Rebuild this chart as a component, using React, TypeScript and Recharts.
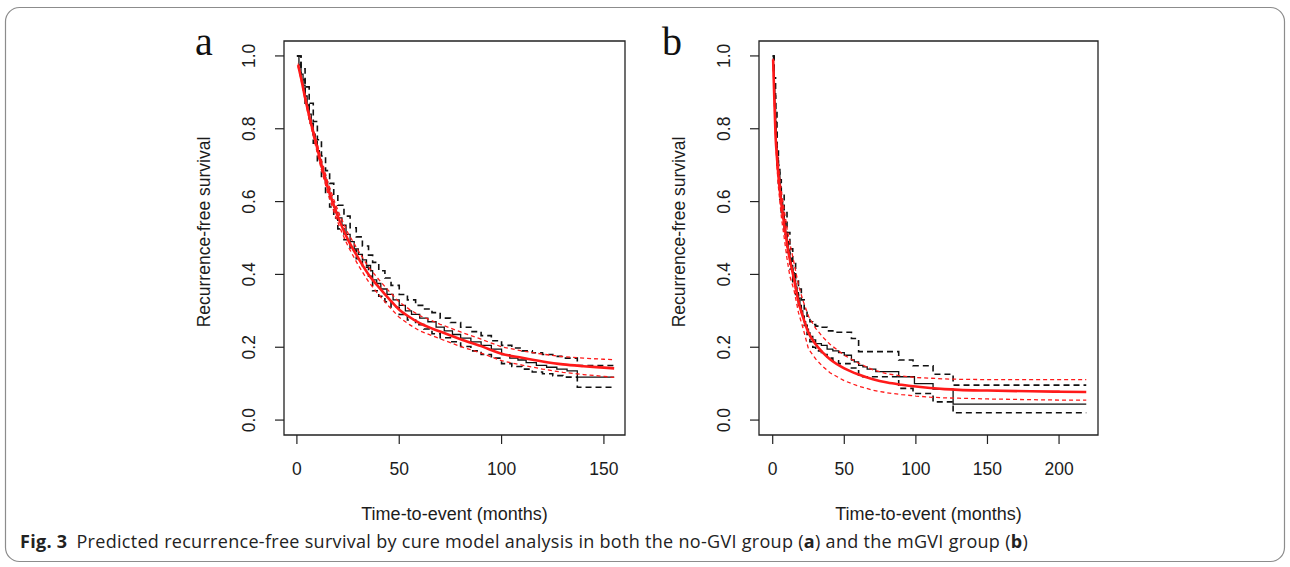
import React from 'react';
import { LineChart, Line, XAxis, YAxis, ReferenceArea } from 'recharts';

// ---------- Panel a (no-GVI group) ----------
const A_FIT_T = [0.6, 2, 4, 6, 8, 10, 12, 15, 18, 21, 25, 30, 35, 40, 45, 50, 55, 60, 70, 80, 90, 100, 110, 120, 130, 140, 150, 155];
const A_FIT = [0.975, 0.94, 0.885, 0.835, 0.79, 0.745, 0.7, 0.64, 0.59, 0.545, 0.495, 0.445, 0.4, 0.365, 0.333, 0.303, 0.283, 0.266, 0.243, 0.222, 0.203, 0.182, 0.171, 0.161, 0.153, 0.148, 0.144, 0.142];
const A_FIT_UP = [0.979, 0.944, 0.891, 0.843, 0.8, 0.757, 0.713, 0.655, 0.606, 0.562, 0.513, 0.465, 0.42, 0.386, 0.354, 0.324, 0.304, 0.287, 0.263, 0.242, 0.222, 0.201, 0.19, 0.181, 0.174, 0.17, 0.167, 0.166];
const A_FIT_LO = [0.971, 0.936, 0.879, 0.827, 0.78, 0.733, 0.687, 0.625, 0.574, 0.528, 0.477, 0.425, 0.38, 0.344, 0.312, 0.282, 0.262, 0.245, 0.223, 0.202, 0.184, 0.163, 0.151, 0.14, 0.131, 0.125, 0.12, 0.117];

const A_KM_T = [0, 1, 2, 3, 4, 5, 6, 7, 8, 9, 10, 11, 12, 13, 14, 15, 16, 17, 18, 19, 20, 22, 24, 26, 28, 30, 32, 34, 36, 37, 39, 41, 44, 47, 50, 53, 56, 60, 64, 68, 72, 76, 80, 85, 90, 95, 100, 104, 108, 112, 117, 122, 127, 132, 137, 155];
const A_KM = [1.0, 0.975, 0.95, 0.92, 0.89, 0.865, 0.84, 0.81, 0.785, 0.765, 0.74, 0.715, 0.695, 0.675, 0.655, 0.635, 0.615, 0.6, 0.585, 0.57, 0.555, 0.535, 0.51, 0.49, 0.47, 0.455, 0.44, 0.425, 0.41, 0.385, 0.375, 0.36, 0.345, 0.33, 0.315, 0.3, 0.29, 0.28, 0.27, 0.255, 0.245, 0.235, 0.225, 0.215, 0.205, 0.195, 0.18, 0.17, 0.165, 0.158, 0.15, 0.145, 0.14, 0.135, 0.118, 0.118];

const A_CI_T = [0, 2, 4, 6, 8, 10, 12, 14, 16, 18, 20, 23, 26, 29, 32, 35, 37, 40, 43, 46, 50, 54, 58, 62, 66, 70, 75, 80, 85, 90, 95, 100, 105, 110, 115, 120, 125, 130, 137, 155];
const A_KM_UP = [1.0, 0.965, 0.915, 0.87, 0.82, 0.77, 0.725, 0.685, 0.65, 0.62, 0.59, 0.56, 0.528, 0.503, 0.478, 0.453, 0.433, 0.41, 0.39, 0.37, 0.345, 0.33, 0.315, 0.305, 0.295, 0.28, 0.268, 0.255, 0.243, 0.232, 0.218, 0.205, 0.198, 0.19, 0.185, 0.18, 0.175, 0.17, 0.15, 0.15];
const A_KM_LO = [1.0, 0.935, 0.87, 0.815, 0.76, 0.71, 0.665, 0.625, 0.585, 0.555, 0.525, 0.495, 0.467, 0.443, 0.42, 0.395, 0.355, 0.34, 0.325, 0.31, 0.29, 0.275, 0.262, 0.25, 0.237, 0.226, 0.215, 0.202, 0.19, 0.18, 0.17, 0.155, 0.147, 0.14, 0.132, 0.127, 0.122, 0.118, 0.09, 0.09];

// ---------- Panel b (mGVI group) ----------
const B_FIT_T = [0.3, 1, 2, 3, 4, 5, 6, 7, 8, 10, 12, 15, 18, 21, 25, 30, 35, 40, 50, 60, 70, 80, 90, 100, 110, 120, 130, 150, 180, 200, 219];
const B_FIT = [0.99, 0.9, 0.78, 0.72, 0.67, 0.63, 0.595, 0.565, 0.54, 0.485, 0.44, 0.385, 0.325, 0.285, 0.24, 0.208, 0.185, 0.167, 0.142, 0.125, 0.112, 0.103, 0.097, 0.092, 0.088, 0.085, 0.083, 0.081, 0.079, 0.078, 0.077];
const B_FIT_UP = [0.993, 0.915, 0.805, 0.745, 0.7, 0.66, 0.63, 0.6, 0.578, 0.527, 0.485, 0.43, 0.37, 0.33, 0.285, 0.252, 0.228, 0.208, 0.178, 0.156, 0.138, 0.127, 0.121, 0.117, 0.115, 0.113, 0.112, 0.111, 0.111, 0.111, 0.111];
const B_FIT_LO = [0.987, 0.885, 0.775, 0.695, 0.64, 0.6, 0.56, 0.53, 0.502, 0.443, 0.395, 0.355, 0.295, 0.255, 0.195, 0.168, 0.147, 0.13, 0.108, 0.093, 0.082, 0.075, 0.07, 0.066, 0.063, 0.061, 0.06, 0.058, 0.056, 0.055, 0.055];

const B_KM_T = [0, 0.5, 1, 1.5, 2, 2.5, 3, 4, 5, 6, 7, 8, 9, 10, 11, 12, 13, 14, 15, 16, 17, 18, 19, 20, 21, 22, 23, 24, 25, 26, 28, 30, 34, 38, 42, 46, 50, 55, 57, 60, 63, 66, 72, 88, 99, 112, 126, 219];
const B_KM = [1.0, 0.96, 0.92, 0.87, 0.82, 0.76, 0.72, 0.68, 0.64, 0.6, 0.57, 0.545, 0.515, 0.49, 0.465, 0.445, 0.425, 0.405, 0.385, 0.365, 0.35, 0.335, 0.315, 0.3, 0.285, 0.27, 0.26, 0.25, 0.24, 0.23, 0.22, 0.21, 0.205, 0.195, 0.19, 0.185, 0.178, 0.165, 0.16, 0.15, 0.146, 0.14, 0.133, 0.119, 0.1, 0.085, 0.044, 0.044];

const B_UP_T = [0, 1, 2, 3, 4, 5, 6, 8, 10, 12, 14, 16, 18, 20, 22, 24, 26, 28, 30, 34, 38, 42, 55, 60, 88, 98, 112, 126, 219];
const B_KM_UP = [1.0, 0.94, 0.85, 0.75, 0.7, 0.66, 0.625, 0.57, 0.515, 0.47, 0.43, 0.39, 0.36, 0.33, 0.305, 0.285, 0.27, 0.262, 0.258, 0.255, 0.245, 0.241, 0.224, 0.188, 0.165, 0.149, 0.126, 0.096, 0.096];
const B_LO_T = [0, 1, 2, 3, 4, 5, 6, 8, 10, 12, 14, 16, 18, 20, 22, 24, 26, 28, 30, 34, 38, 42, 46, 54, 60, 88, 98, 112, 126, 219];
const B_KM_LO = [1.0, 0.89, 0.79, 0.7, 0.65, 0.605, 0.565, 0.51, 0.46, 0.415, 0.38, 0.345, 0.315, 0.285, 0.26, 0.235, 0.215, 0.2, 0.19, 0.18, 0.17, 0.163, 0.155, 0.143, 0.119, 0.087, 0.073, 0.05, 0.02, 0.02];

// ---------- Axes ----------
const Y_TICKS = [0, 0.2, 0.4, 0.6, 0.8, 1.0];
const A_X_TICKS = [0, 50, 100, 150];
const B_X_TICKS = [0, 50, 100, 150, 200];
const Y_DOMAIN: [number, number] = [-0.041, 1.041];
const A_X_DOMAIN: [number, number] = [-6.3, 160.3];
const B_X_DOMAIN: [number, number] = [-9.57, 227.2];

const Y_TITLE = 'Recurrence-free survival';
const X_TITLE = 'Time-to-event (months)';

const zip = (t: number[], s: number[]) => t.map((v, i) => ({ t: v, s: s[i] }));

const RFONT = '"Liberation Sans", Arial, sans-serif';
const TXT = '#1c1c1c';
const FS = 17.5;

const RED = '#ff1a1a';

type Pt = { t: number; s: number };
type PanelProps = {
  left: number;
  width: number;
  plotLeft: number;
  plotRight: number;
  xDomain: [number, number];
  xTicks: number[];
  fit: Pt[];
  fitUp: Pt[];
  fitLo: Pt[];
  km: Pt[];
  kmUp: Pt[];
  kmLo: Pt[];
};

function Panel(p: PanelProps) {
  const H = 567;
  const plotTop = 41;
  const plotBottom = 435;
  const xAxisH = H - plotBottom;
  const cx = (p.plotLeft + p.plotRight) / 2;
  const yLabX = p.plotLeft - 35;
  const yTitleX = p.plotLeft - 80;

  const XTick = (props: any) => (
    <text x={props.x} y={469} textAnchor="middle" dominantBaseline="central" fontFamily={RFONT} fontSize={FS} fill={TXT}>
      {props.payload.value}
    </text>
  );
  const YTick = (props: any) => (
    <text
      x={yLabX}
      y={props.y}
      transform={`rotate(-90 ${yLabX} ${props.y})`}
      textAnchor="middle"
      dominantBaseline="central"
      fontFamily={RFONT}
      fontSize={FS}
      fill={TXT}
    >
      {Number(props.payload.value).toFixed(1)}
    </text>
  );

  return (
    <div style={{ position: 'absolute', left: p.left, top: 0 }}>
      <LineChart
        width={p.width}
        height={H}
        margin={{ top: plotTop, right: p.width - p.plotRight, bottom: 0, left: 0 }}
      >
        <XAxis
          type="number"
          dataKey="t"
          domain={p.xDomain}
          allowDataOverflow
          ticks={p.xTicks}
          interval={0}
          height={xAxisH}
          axisLine={false}
          tickLine={{ stroke: '#222', strokeWidth: 1.2 }}
          tickSize={9}
          tick={XTick}
          label={{
            content: () => (
              <text x={cx} y={514} textAnchor="middle" dominantBaseline="central" fontFamily={RFONT} fontSize={18} fill={TXT}>
                {X_TITLE}
              </text>
            ),
          }}
        />
        <YAxis
          type="number"
          domain={Y_DOMAIN}
          allowDataOverflow
          ticks={Y_TICKS}
          interval={0}
          width={p.plotLeft}
          axisLine={false}
          tickLine={{ stroke: '#222', strokeWidth: 1.2 }}
          tickSize={9}
          tick={YTick}
          label={{
            content: () => (
              <text
                x={yTitleX}
                y={232}
                transform={`rotate(-90 ${yTitleX} 232)`}
                textAnchor="middle"
                dominantBaseline="central"
                fontFamily={RFONT}
                fontSize={FS}
                fill={TXT}
              >
                {Y_TITLE}
              </text>
            ),
          }}
        />
        <ReferenceArea
          x1={p.xDomain[0]}
          x2={p.xDomain[1]}
          y1={Y_DOMAIN[0]}
          y2={Y_DOMAIN[1]}
          fill="none"
          fillOpacity={0}
          stroke="#222"
          strokeWidth={1.3}
          ifOverflow="visible"
        />
        <Line data={p.kmUp} dataKey="s" type="stepAfter" stroke="#111" strokeWidth={1.6} strokeDasharray="6 4" dot={false} isAnimationActive={false} />
        <Line data={p.kmLo} dataKey="s" type="stepAfter" stroke="#111" strokeWidth={1.6} strokeDasharray="6 4" dot={false} isAnimationActive={false} />
        <Line data={p.km} dataKey="s" type="stepAfter" stroke="#111" strokeWidth={1.3} dot={false} isAnimationActive={false} />
        <Line data={p.fitUp} dataKey="s" type="linear" stroke={RED} strokeWidth={1.3} strokeDasharray="4 3" dot={false} isAnimationActive={false} />
        <Line data={p.fitLo} dataKey="s" type="linear" stroke={RED} strokeWidth={1.3} strokeDasharray="4 3" dot={false} isAnimationActive={false} />
        <Line data={p.fit} dataKey="s" type="monotone" stroke={RED} strokeWidth={2.6} dot={false} isAnimationActive={false} />
      </LineChart>
    </div>
  );
}

export default function App() {
  return (
    <div style={{ position: 'absolute', left: 0, top: 0, width: 1290, height: 567, background: '#fff', overflow: 'hidden' }}>
      <Panel
        left={0}
        width={645}
        plotLeft={284}
        plotRight={625}
        xDomain={A_X_DOMAIN}
        xTicks={A_X_TICKS}
        fit={zip(A_FIT_T, A_FIT)}
        fitUp={zip(A_FIT_T, A_FIT_UP)}
        fitLo={zip(A_FIT_T, A_FIT_LO)}
        km={zip(A_KM_T, A_KM)}
        kmUp={zip(A_CI_T, A_KM_UP)}
        kmLo={zip(A_CI_T, A_KM_LO)}
      />
      <Panel
        left={645}
        width={645}
        plotLeft={114}
        plotRight={453}
        xDomain={B_X_DOMAIN}
        xTicks={B_X_TICKS}
        fit={zip(B_FIT_T, B_FIT)}
        fitUp={zip(B_FIT_T, B_FIT_UP)}
        fitLo={zip(B_FIT_T, B_FIT_LO)}
        km={zip(B_KM_T, B_KM)}
        kmUp={zip(B_UP_T, B_KM_UP)}
        kmLo={zip(B_LO_T, B_KM_LO)}
      />
      <svg width={1290} height={567} style={{ position: 'absolute', left: 0, top: 0, pointerEvents: 'none' }}>
        <rect x={5.5} y={7.5} width={1279} height={554} rx={14} ry={14} fill="none" stroke="#8c8c8c" strokeWidth={1.2} />
        <text x={195} y={55} fontFamily='"Liberation Serif", "Times New Roman", serif' fontSize={40} fill="#111">a</text>
        <text x={662} y={55} fontFamily='"Liberation Serif", "Times New Roman", serif' fontSize={40} fill="#111">b</text>
        <text x={20} y={548} fontFamily='"Open Sans", "Noto Sans", sans-serif' fontSize={18} letterSpacing={0.3} fill="#222">
          <tspan fontWeight="bold">Fig. 3</tspan>
          <tspan dx={9}>Predicted recurrence-free survival by cure model analysis in both the no-GVI group (</tspan>
          <tspan fontWeight="bold">a</tspan>
          <tspan>) and the mGVI group (</tspan>
          <tspan fontWeight="bold">b</tspan>
          <tspan>)</tspan>
        </text>
      </svg>
    </div>
  );
}
